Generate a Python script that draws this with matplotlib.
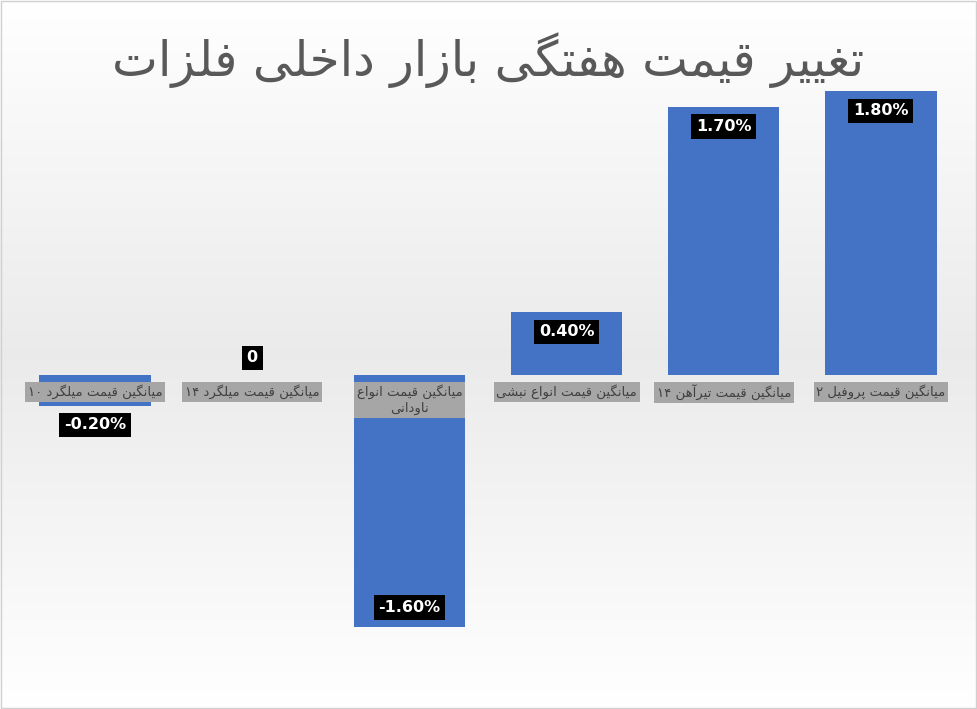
import matplotlib
matplotlib.use("Agg")
import matplotlib.pyplot as plt
import numpy as np

categories = ["میانگین قیمت میلگرد ۱۰", "میانگین قیمت میلگرد ۱۴", "میانگین قیمت انواع\nناودانی",
              "میانگین قیمت انواع نبشی", "میانگین قیمت تیرآهن ۱۴", "میانگین قیمت پروفیل ۲"]
values = [-0.20, 0.0, -1.60, 0.40, 1.70, 1.80]
value_labels = ["-0.20%", "0", "-1.60%", "0.40%", "1.70%", "1.80%"]
title = "تغییر قیمت هفتگی بازار داخلی فلزات"

FORMS = {  # iso, fin, ini, med
    'ا': (0xFE8D, 0xFE8E), 'آ': (0xFE81, 0xFE82), 'د': (0xFEA9, 0xFEAA), 'ر': (0xFEAD, 0xFEAE),
    'ز': (0xFEAF, 0xFEB0), 'و': (0xFEED, 0xFEEE),
    'ب': (0xFE8F, 0xFE90, 0xFE91, 0xFE92), 'ت': (0xFE95, 0xFE96, 0xFE97, 0xFE98),
    'خ': (0xFEA5, 0xFEA6, 0xFEA7, 0xFEA8), 'ش': (0xFEB5, 0xFEB6, 0xFEB7, 0xFEB8),
    'ع': (0xFEC9, 0xFECA, 0xFECB, 0xFECC), 'غ': (0xFECD, 0xFECE, 0xFECF, 0xFED0),
    'ف': (0xFED1, 0xFED2, 0xFED3, 0xFED4), 'ق': (0xFED5, 0xFED6, 0xFED7, 0xFED8),
    'ل': (0xFEDD, 0xFEDE, 0xFEDF, 0xFEE0), 'م': (0xFEE1, 0xFEE2, 0xFEE3, 0xFEE4),
    'ن': (0xFEE5, 0xFEE6, 0xFEE7, 0xFEE8), 'ه': (0xFEE9, 0xFEEA, 0xFEEB, 0xFEEC),
    'ی': (0xFBFC, 0xFBFD, 0xFBFE, 0xFBFF), 'گ': (0xFB92, 0xFB93, 0xFB94, 0xFB95),
    'پ': (0xFB56, 0xFB57, 0xFB58, 0xFB59),
}

def shape_word(w):
    if not any(c in FORMS for c in w):
        return w
    out = []
    for i, c in enumerate(w):
        if c not in FORMS:
            out.append(c); continue
        f = FORMS[c]
        prev = w[i-1] if i > 0 else None
        nxt = w[i+1] if i + 1 < len(w) else None
        pc = prev is not None and prev in FORMS and len(FORMS[prev]) == 4
        nc = len(f) == 4 and nxt is not None and nxt in FORMS
        if pc and nc: out.append(chr(f[3]))
        elif pc: out.append(chr(f[1]))
        elif nc: out.append(chr(f[2]))
        else: out.append(chr(f[0]))
    return ''.join(out)[::-1]

def rtl(s):
    lines = []
    for line in s.split("\n"):
        words = [shape_word(w) for w in line.split(" ")]
        lines.append(" ".join(words[::-1]))
    return "\n".join(lines)

plt.rcParams['font.family'] = ['DejaVu Sans']
fig = plt.figure(figsize=(9.77, 7.09), dpi=100)
bg = fig.add_axes([0, 0, 1, 1])
grad = np.abs(np.linspace(-1, 1, 256))[:, None] * np.ones((1, 2))
grad = 1 - 0.08 * (1 - grad)
bg.imshow(np.dstack([grad, grad, grad]), aspect='auto', extent=[0, 1, 0, 1])
bg.set_axis_off()
bg.add_patch(plt.Rectangle((0.001, 0.001), 0.998, 0.998, fill=False, ec='#d0d0d0', lw=1, transform=bg.transAxes))

ax = fig.add_axes([0.017, 0.104, 0.965, 0.779])
ax.set_facecolor('none')
x = np.arange(len(values))
ax.bar(x, values, width=0.71, color='#4472C4', zorder=2)
ax.set_xlim(-0.5, 5.5)
ax.set_ylim(-1.65, 1.85)
ax.set_axis_off()

for i, (v, lab) in enumerate(zip(values, value_labels)):
    if v > 0:
        y, va = v - 0.08, 'top'
    elif v < 0:
        y, va = v + 0.08, 'bottom'
        if v > -0.5:
            y, va = -0.27, 'top'
    else:
        y, va = 0.06, 'bottom'
    ax.text(i, y, lab, ha='center', va=va, color='white', fontsize=11.5, fontweight='bold',
            bbox=dict(boxstyle='square,pad=0.3', fc='black', ec='none'), zorder=4)
    ax.text(i, -0.06, rtl(categories[i]), ha='center', va='top', color='#404040', fontsize=9.5,
            linespacing=1.3, bbox=dict(boxstyle='square,pad=0.2', fc='#a6a6a6', ec='none'), zorder=3)

fig.text(0.5, 0.915, rtl(title), ha='center', va='center', fontsize=35, color='#595959')
fig.savefig("out.png", dpi=100)
